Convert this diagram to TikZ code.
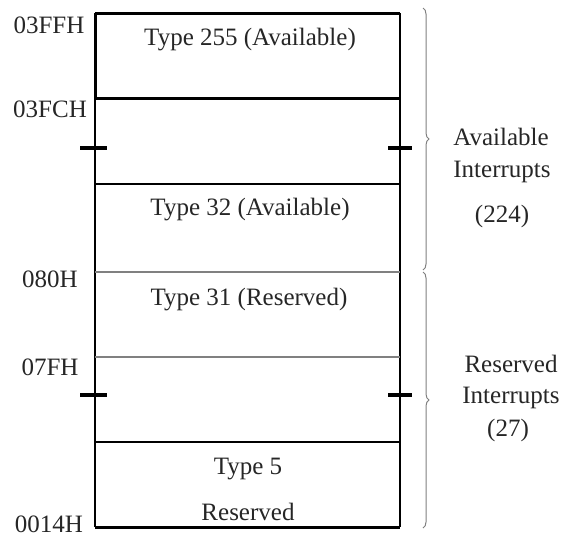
\documentclass[tikz,border=0pt]{standalone}
\usepackage{fontspec}
\setmainfont{Liberation Serif}
\usetikzlibrary{positioning,decorations.pathreplacing}

\begin{document}
\begin{tikzpicture}[x=0.5pt,y=-0.5pt,
  every node/.style={font=\fontsize{12.5}{15}\selectfont,text=black!85,inner sep=0pt},
  addr/.style={anchor=base},
  cell/.style={anchor=base},
  grp/.style={anchor=base},
  brc/.style={decorate,decoration={brace,amplitude=3pt},gray,line width=0.5pt},
  gapmark/.style={line width=1.6pt}]
\useasboundingbox (0,0) rectangle (566,536);

% row boundaries of the vector table
\foreach \n/\y in {0/13,1/98,2/184,3/272,4/357,5/442,6/527}{
  \coordinate (L\n) at (95,\y);
  \coordinate (R\n) at (400,\y);
}
\draw[line width=1pt] (L0) -- (L6);
\draw[line width=1pt] (R0) -- (R6);
\draw[line width=1.5pt] (L0) -- (L1);
\draw[line width=1.5pt] (L0) -- (R0);
\draw[line width=1.5pt] (L1) -- (R1);
\draw[line width=0.8pt] (L2) -- (R2);
\draw[line width=0.6pt,gray] (L3) -- (R3);
\draw[line width=0.6pt,gray] (L4) -- (R4);
\draw[line width=0.8pt] (L5) -- (R5);
\draw[line width=1.5pt] (L6) -- (R6);

% break marks
\coordinate (gl1) at (95,148);  \coordinate (gr1) at (400,148);
\coordinate (gl2) at (95,395);  \coordinate (gr2) at (400,395);
\draw[gapmark] ([xshift=-7.5pt]gl1) -- ([xshift=6pt]gl1);
\draw[gapmark] ([xshift=-6pt]gr1) -- ([xshift=6pt]gr1);
\draw[gapmark] ([xshift=-7.5pt]gl2) -- ([xshift=6pt]gl2);
\draw[gapmark] ([xshift=-6pt]gr2) -- ([xshift=6pt]gr2);

% addresses
\node[addr] (a3ff) at (49,33)  {03FFH};
\node[addr] (a3fc) at (50,117) {03FCH};
\node[addr] (a080) at (50,287) {080H};
\node[addr] (a07f) at (50,375) {07FH};
\node[addr] (a014) at (49,532) {0014H};

% entries
\node[cell] (t255) at (250,45)  {Type 255 (Available)};
\node[cell] (t32)  at (250,215) {Type 32 (Available)};
\node[cell] (t31)  at (249,305) {Type 31 (Reserved)};
\node[cell] (t5)   at (248,474) {Type 5};
\node[cell] (t5r)  at (248,520) {Reserved};

% groups
\coordinate (b0) at (423,8);
\coordinate (b1) at (423,270);
\coordinate (b2) at (423,272);
\coordinate (b3) at (423,528);
\draw[brc] (b0) -- (b1);
\draw[brc] (b2) -- (b3);

\node[grp] (avl)  at (501,145) {Available};
\node[grp] (avi)  at (502,177) {Interrupts};
\node[grp] (avn)  at (502,222) {(224)};
\node[grp] (rsv)  at (511,372) {Reserved};
\node[grp] (rsi)  at (511,403) {Interrupts};
\node[grp] (rsn)  at (508,436) {(27)};
\end{tikzpicture}
\end{document}
